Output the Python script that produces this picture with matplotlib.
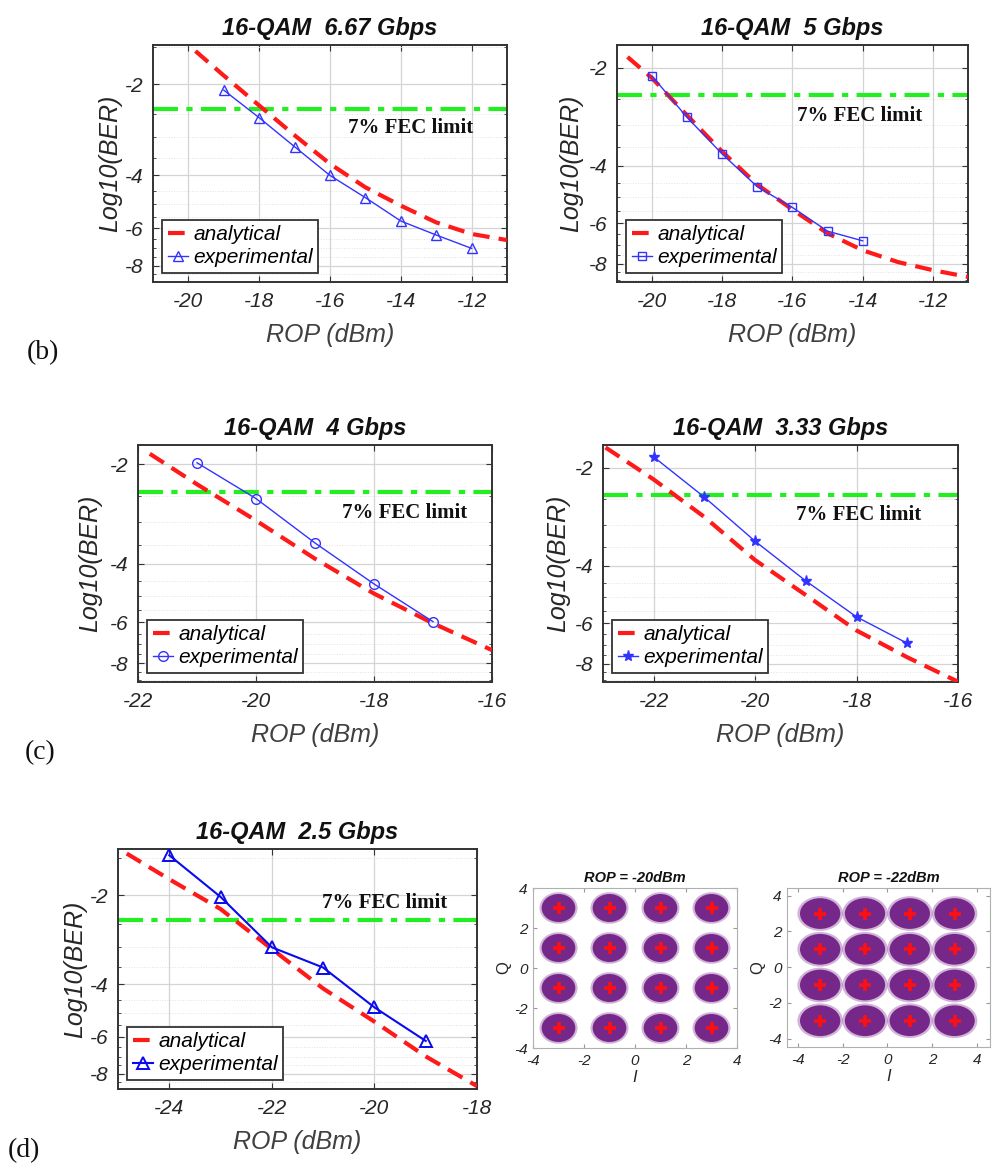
import numpy as np
import matplotlib
matplotlib.use("Agg")
import matplotlib.pyplot as plt
from matplotlib.patches import Ellipse

plt.rcParams['font.family'] = ['Liberation Sans', 'DejaVu Sans']
plt.rcParams['axes.unicode_minus'] = False

# ---------------- data ----------------
fec_limit = -2.42

# 16-QAM 6.67 Gbps
p1_exp_x = [-19, -18, -17, -16, -15, -14, -13, -12]
p1_exp_y = [-2.09, -2.58, -3.22, -4.01, -4.75, -5.68, -6.32, -7.00]
p1_ana_x = [-19.8, -19, -18, -17, -16, -15, -14, -13, -12, -11]
p1_ana_y = [-1.55, -1.87, -2.35, -2.95, -3.67, -4.39, -5.05, -5.74, -6.27, -6.57]

# 16-QAM 5 Gbps
p2_exp_x = [-20, -19, -18, -17, -16, -15, -14]
p2_exp_y = [-2.12, -2.84, -3.68, -4.64, -5.37, -6.35, -6.80]
p2_ana_x = [-20.7, -20, -19, -18, -17, -16, -15, -14, -13, -12, -11]
p2_ana_y = [-1.85, -2.15, -2.80, -3.62, -4.57, -5.45, -6.45, -7.27, -7.90, -8.37, -8.78]

# 16-QAM 4 Gbps
p3_exp_x = [-21, -20, -19, -18, -17]
p3_exp_y = [-1.98, -2.54, -3.46, -4.60, -5.98]
p3_ana_x = [-21.8, -21, -20, -19, -18, -17, -16]
p3_ana_y = [-1.86, -2.30, -2.96, -3.86, -4.92, -6.05, -7.29]

# 16-QAM 3.33 Gbps
p4_exp_x = [-22, -21, -20, -19, -18, -17]
p4_exp_y = [-1.85, -2.46, -3.36, -4.45, -5.74, -6.92]
p4_ana_x = [-22.95, -22, -21, -20, -19, -18, -17, -16]
p4_ana_y = [-1.73, -2.17, -2.83, -3.84, -4.92, -6.32, -7.64, -9.08]

# 16-QAM 2.5 Gbps
p5_exp_x = [-24, -23, -22, -21, -20, -19]
p5_exp_y = [-1.47, -2.03, -3.00, -3.51, -4.78, -6.20]
p5_ana_x = [-24.83, -24, -23, -22, -21, -20, -19, -18]
p5_ana_y = [-1.45, -1.77, -2.23, -3.04, -4.13, -5.34, -6.99, -8.80]

# constellations
qam_levels = [-3, -1, 1, 3]
spread_20 = (0.66, 0.70)    # cluster half-width / half-height at -20 dBm
spread_22 = (0.90, 0.86)    # cluster half-width / half-height at -22 dBm

# ---------------- layout ----------------
W, H = 993, 1167
fig = plt.figure(figsize=(W / 100, H / 100), dpi=100)


def rect(l, t, r, b):
    return [l / W, 1 - b / H, (r - l) / W, (b - t) / H]


def fwd(y):
    y = np.asarray(y, dtype=float)
    return -np.log(np.clip(-y, 1e-9, None))


def inv(u):
    return -np.exp(-np.asarray(u, dtype=float))


TXT = '#262626'


def ber_panel(r, title, ex, ey, ax_x, ay, marker, xlim, ylim, xticks, fec_xy,
              ms=7, mfc='none', lcol='#3333ff', lw=1.0, mew=1.0, ylabel_x=-0.09):
    ax = fig.add_axes(rect(*r))
    ax.set_yscale('function', functions=(fwd, inv))
    ax.set_xlim(*xlim)
    ax.set_ylim(*ylim)
    ax.set_xticks(xticks)
    ax.set_xticklabels([str(v) for v in xticks])
    ax.set_yticks([-8, -6, -4, -2])
    ax.set_yticks(np.arange(-9.0, ylim[1], 0.5), minor=True)
    ax.set_yticklabels(['-8', '-6', '-4', '-2'])
    ax.yaxis.set_minor_formatter(plt.NullFormatter())
    ax.grid(True, which='major', color='#d4d4d4', lw=0.9)
    ax.grid(True, which='minor', axis='y', color='#e2e2e2', lw=0.7, ls=':')
    ax.set_axisbelow(True)
    ax.tick_params(which='both', direction='in', top=True, right=True,
                   labelsize=15, labelcolor=TXT, color='#333333', length=4, pad=7)
    ax.tick_params(which='minor', length=2)
    for lab in ax.get_xticklabels() + ax.get_yticklabels():
        lab.set_fontstyle('italic')
    for s in ax.spines.values():
        s.set_color('#333333')
        s.set_linewidth(1.4)
    ax.axhline(fec_limit, color='#22ee22', lw=3, ls=(0, (6, 2, 1.5, 2)), zorder=2)
    la, = ax.plot(ax_x, ay, color='#ff1a1a', lw=3, ls=(0, (4, 2.2)), zorder=3,
                  label='analytical')
    le, = ax.plot(ex, ey, color=lcol, lw=lw, marker=marker, ms=ms, mfc=mfc,
                  mec=lcol, mew=mew, zorder=4, label='experimental')
    ax.text(fec_xy[0], fec_xy[1], '7% FEC limit', family='Liberation Serif',
            fontweight='bold', fontsize=15, color='#111111', va='center', ha='left')
    ax.set_title(title, fontsize=17, fontweight='bold', fontstyle='italic',
                 color='#111111', pad=7)
    ax.set_xlabel('ROP (dBm)', fontsize=18, fontstyle='italic', color='#404040',
                  labelpad=9)
    ax.set_ylabel('Log10(BER)', fontsize=18, fontstyle='italic', color=TXT)
    ax.yaxis.set_label_coords(ylabel_x, 0.5)
    leg = ax.legend(handles=[la, le], loc='lower left',
                    prop={'style': 'italic', 'size': 15}, frameon=True,
                    fancybox=False, edgecolor='#333333', framealpha=1,
                    handlelength=1.0, handletextpad=0.25, labelspacing=0.2,
                    borderpad=0.25, borderaxespad=0.45)
    leg.get_frame().set_linewidth(1.3)
    return ax


ber_panel((153, 45, 507, 282), '16-QAM  6.67 Gbps', p1_exp_x, p1_exp_y,
          p1_ana_x, p1_ana_y, '^', (-21, -11), (-9.05, -1.48),
          [-20, -18, -16, -14, -12], (-15.5, -2.80), ylabel_x=-0.088)
ber_panel((617, 45, 968, 282), '16-QAM  5 Gbps', p2_exp_x, p2_exp_y,
          p2_ana_x, p2_ana_y, 's', (-21, -11), (-9.1, -1.7),
          [-20, -18, -16, -14, -12], (-15.87, -2.82), ms=6, ylabel_x=-0.097)
ber_panel((138, 445, 492, 682), '16-QAM  4 Gbps', p3_exp_x, p3_exp_y,
          p3_ana_x, p3_ana_y, 'o', (-22, -16), (-9.1, -1.75),
          [-22, -20, -18, -16], (-18.54, -2.80), ylabel_x=-0.10)
ber_panel((603, 445, 958, 682), '16-QAM  3.33 Gbps', p4_exp_x, p4_exp_y,
          p4_ana_x, p4_ana_y, '*', (-23, -16), (-9.1, -1.7),
          [-22, -20, -18, -16], (-19.19, -2.80), ms=8, mfc='#3333ff',
          ylabel_x=-0.093)
ber_panel((118, 849, 477, 1089), '16-QAM  2.5 Gbps', p5_exp_x, p5_exp_y,
          p5_ana_x, p5_ana_y, '^', (-25, -18), (-8.9, -1.4),
          [-24, -22, -20, -18], (-21.03, -2.12), ms=9, lcol='#0a0aee', lw=1.5,
          mew=1.4, ylabel_x=-0.085)


def const_panel(r, title, spread, xlim, ylim):
    ax = fig.add_axes(rect(*r))
    for qi in qam_levels:
        for qq in qam_levels:
            ax.add_patch(Ellipse((qi, qq), 2 * spread[0] * 1.13, 2 * spread[1] * 1.13,
                                 facecolor='#9a5aaa', edgecolor='none', alpha=0.45,
                                 zorder=1))
            ax.add_patch(Ellipse((qi, qq), 2 * spread[0], 2 * spread[1],
                                 facecolor='#76288a', edgecolor='none', zorder=2))
    gi, gq = np.meshgrid(qam_levels, qam_levels)
    ax.plot(gi.ravel(), gq.ravel(), ls='none', marker='+', ms=9, mew=2.6,
            color='#ff1010', zorder=3)
    ax.set_xlim(*xlim)
    ax.set_ylim(*ylim)
    ax.set_xticks([-4, -2, 0, 2, 4])
    ax.set_yticks([-4, -2, 0, 2, 4])
    ax.tick_params(direction='in', top=True, right=True, labelsize=11,
                   labelcolor=TXT, color='#999999', length=3, pad=4)
    for lab in ax.get_xticklabels() + ax.get_yticklabels():
        lab.set_fontstyle('italic')
    for s in ax.spines.values():
        s.set_color('#b0b0b0')
        s.set_linewidth(0.8)
    ax.set_title(title, fontsize=10.5, fontweight='bold', fontstyle='italic',
                 color='#111111', pad=4)
    ax.set_xlabel('I', fontsize=12, fontstyle='italic', color=TXT, labelpad=2)
    ax.set_ylabel('Q', fontsize=12, color=TXT, labelpad=2)
    return ax


const_panel((533, 888, 737, 1048), 'ROP = -20dBm', spread_20, (-4, 4), (-4, 4))
const_panel((787, 888, 990, 1047), 'ROP = -22dBm', spread_22, (-4.48, 4.58),
            (-4.47, 4.43))

# panel letters
for lab, (px, py) in {'(b)': (27, 353), '(c)': (25, 753), '(d)': (8, 1151)}.items():
    fig.text(px / W, 1 - py / H, lab, family='Liberation Serif', fontsize=20,
             va='center', ha='left', color='#111111')

fig.savefig('out.png', dpi=100)
